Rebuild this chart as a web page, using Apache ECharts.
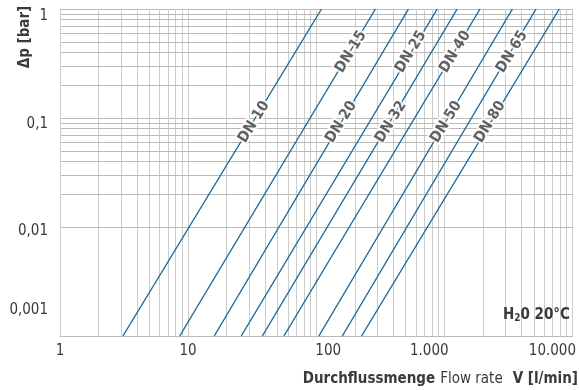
<!DOCTYPE html>
<html><head><meta charset="utf-8">
<script src="https://cdn.jsdelivr.net/npm/echarts@6/dist/echarts.min.js"></script>
<style>html,body{margin:0;padding:0;background:#fff}#c{width:579px;height:390px}</style>
</head><body><div id="c"></div>
<script>
// ---- data ----
const seriesNames = ['DN 10','DN 15','DN 20','DN 25','DN 32','DN 40','DN 50','DN 65','DN 80'];
const pLow = 0.001, pHigh = 1;                       // bar
const flowAtLow  = [3.1, 8.6, 16, 26, 38, 56, 105, 160, 226];      // l/min at 0.001 bar
const flowAtHigh = [110, 290, 525, 880, 1260, 1900, 3400, 5200, 7900]; // l/min at 1 bar
const labelFlow = [32.7, 187, 157, 549, 384, 1217, 1036, 3379, 2277];
const labelP    = [0.092, 0.405, 0.092, 0.405, 0.092, 0.405, 0.092, 0.405, 0.092];
const xTicks = [1, 10, 100, 1000, 10000];
const xTickLabels = ['1', '10', '100', '1.000', '10.000'];
const yTicks = [0.001, 0.01, 0.1, 1];
const yTickLabels = ['0,001', '0,01', '0,1', '1'];
const xDecades = [1, 10, 100, 1000];
const yDecades = [0.001, 0.01, 0.1];
const gridMult = [2, 3, 4, 5, 6, 7, 8, 9];

const FONT = "'Liberation Sans Narrow','DejaVu Sans Condensed',Roboto,sans-serif";
const TXT = '#3a3a3a';
const LINE = '#1a6898';
const GRIDX = '#cccccc';
const GRIDY = '#b9b9b9';

function idxOf(ticks, v){
  for (let i = 0; i < ticks.length; i++) if (Math.abs(Math.log10(v) - Math.log10(ticks[i])) < 1e-6) return i;
  return -1;
}
const xMinor = [];
xDecades.forEach(d => gridMult.forEach(m => xMinor.push(d * m)));
const yMinor = [];
yDecades.forEach(d => gridMult.forEach(m => yMinor.push(d * m)));

const baseLbl = {fontFamily: FONT, fontSize: 15, color: TXT};
const xRich = {
  x0: Object.assign({}, baseLbl),
  x1: Object.assign({}, baseLbl),
  x2: Object.assign({padding: [0, 0, 0, 24]}, baseLbl),
  x3: Object.assign({padding: [0, 30, 0, 0]}, baseLbl),
  x4: Object.assign({padding: [0, 40, 0, 0]}, baseLbl)
};
const yRich = {
  y0: Object.assign({padding: [0, 0, 52, 0]}, baseLbl),
  y1: Object.assign({padding: [9, 0, 0, 0]}, baseLbl),
  y2: Object.assign({padding: [12, 0, 0, 0]}, baseLbl),
  y3: Object.assign({padding: [15, 0, 0, 0]}, baseLbl)
};

const series = [];
series.push({
  type: 'line', data: [[1, 1]], symbol: 'none', lineStyle: {opacity: 0}, silent: true, z: 0,
  markLine: {
    z: 0, silent: true, symbol: ['none', 'none'], label: {show: false}, animation: false,
    data: xMinor.map(v => ({xAxis: v, lineStyle: {color: GRIDX, type: 'solid', width: 1}}))
      .concat(yMinor.map(v => ({yAxis: v, lineStyle: {color: GRIDY, type: 'solid', width: 1}})))
  }
});
seriesNames.forEach((n, i) => {
  series.push({
    type: 'line', name: n, data: [[flowAtLow[i], pLow], [flowAtHigh[i], pHigh]],
    symbol: 'none', lineStyle: {color: LINE, width: 1.4, type: 'solid'}, z: 8, silent: true
  });
});
series.push({
  type: 'scatter', z: 9, symbolSize: 0, silent: true,
  data: labelFlow.map((q, i) => [q, labelP[i], seriesNames[i]]),
  label: {
    show: true, position: 'inside', rotate: 58.5,
    formatter: p => p.value[2],
    fontFamily: FONT, fontWeight: 'bold', fontSize: 15, color: TXT,
    textBorderColor: '#fff', textBorderWidth: 4
  }
});

const chart = echarts.init(document.getElementById('c'), null, {renderer: 'canvas'});
chart.setOption({
  animation: false,
  backgroundColor: '#fff',
  grid: {left: 60, right: 1, top: 9, bottom: 54, containLabel: false},
  xAxis: {
    type: 'log', logBase: 10, min: 1, max: 10000,
    axisLine: {lineStyle: {color: GRIDY}}, axisTick: {show: false},
    splitLine: {show: true, lineStyle: {color: GRIDX, width: 1}},
    axisLabel: {
      margin: 8, fontFamily: FONT, fontSize: 15, color: TXT,
      formatter: v => { const i = idxOf(xTicks, v); return i < 0 ? '' : '{x' + i + '|' + xTickLabels[i] + '}'; },
      rich: xRich
    }
  },
  yAxis: {
    type: 'log', logBase: 10, min: 0.001, max: 1,
    axisLine: {lineStyle: {color: GRIDX}}, axisTick: {show: false},
    splitLine: {show: true, lineStyle: {color: GRIDY, width: 1}},
    axisLabel: {
      margin: 12, fontFamily: FONT, fontSize: 15, color: TXT,
      formatter: v => { const i = idxOf(yTicks, v); return i < 0 ? '' : '{y' + i + '|' + yTickLabels[i] + '}'; },
      rich: yRich
    }
  },
  title: {
    text: '{b|Durchflussmenge} {n|Flow rate}  {b|V [l/min]}',
    right: 1, top: 370, padding: 0,
    textStyle: {rich: {
      b: {fontFamily: FONT, fontWeight: 'bold', fontSize: 15, color: TXT},
      n: {fontFamily: FONT, fontWeight: 'normal', fontSize: 15, color: TXT}
    }}
  },
  graphic: [
    {type: 'text', x: 25, y: 37, rotation: Math.PI / 2, z: 10,
     style: {text: 'Δp [bar]', align: 'center', verticalAlign: 'middle',
             font: 'bold 15px ' + FONT, fill: TXT}},
    {type: 'text', x: 570, y: 315, z: 10,
     style: {text: '{a|H}{s|2}{a|0 20°C}', align: 'right', verticalAlign: 'middle',
             rich: {
               a: {fontFamily: FONT, fontWeight: 'bold', fontSize: 15, fill: TXT, color: TXT},
               s: {fontFamily: FONT, fontWeight: 'bold', fontSize: 10, fill: TXT, color: TXT, padding: [7, 0, 0, 0]}
             }}}
  ],
  series: series
});
</script>
</body></html>
